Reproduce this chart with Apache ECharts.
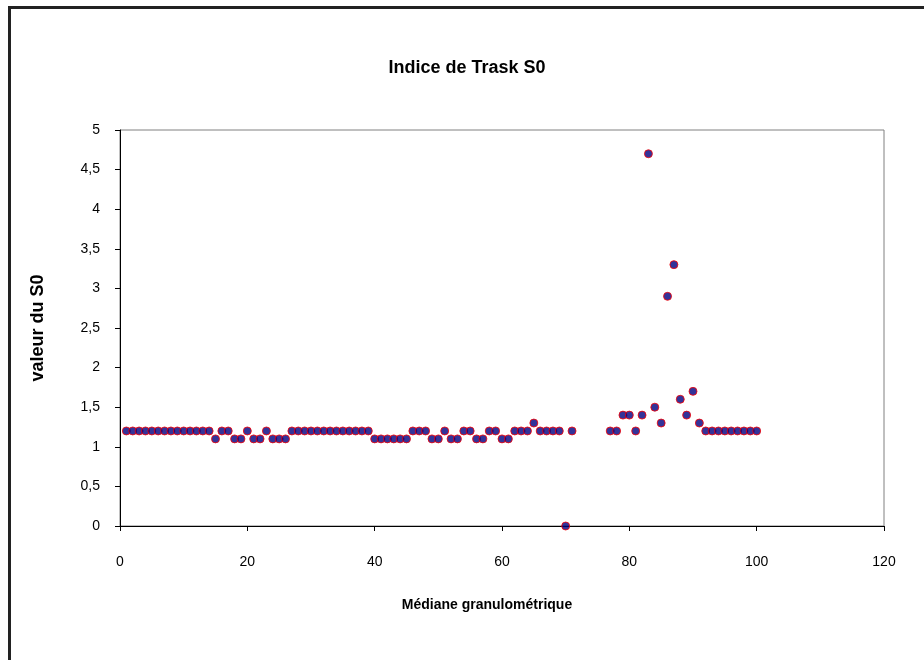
<!DOCTYPE html>
<html>
<head>
<meta charset="utf-8">
<script src="https://cdn.jsdelivr.net/npm/echarts@6/dist/echarts.min.js"></script>
<style>
  body { margin: 0; background: #fff; }
  #chart { width: 924px; height: 660px; }
</style>
</head>
<body>
<div id="chart"></div>
<script>
// Médiane granulométrique (x) et valeur du S0 (y)
const xValues = [
  1, 2, 3, 4, 5, 6, 7, 8, 9, 10, 11, 12, 13, 14, 15, 16, 17, 18, 19, 20,
  21, 22, 23, 24, 25, 26, 27, 28, 29, 30, 31, 32, 33, 34, 35, 36, 37, 38, 39, 40,
  41, 42, 43, 44, 45, 46, 47, 48, 49, 50, 51, 52, 53, 54, 55, 56, 57, 58, 59, 60,
  61, 62, 63, 64, 65, 66, 67, 68, 69, 70, 71,
  77, 78, 79, 80, 81, 82, 83, 84, 85, 86, 87, 88, 89, 90,
  91, 92, 93, 94, 95, 96, 97, 98, 99, 100
]
const s0Values = [
  1.2, 1.2, 1.2, 1.2, 1.2, 1.2, 1.2, 1.2, 1.2, 1.2, 1.2, 1.2, 1.2, 1.2, 1.1, 1.2, 1.2, 1.1, 1.1, 1.2,
  1.1, 1.1, 1.2, 1.1, 1.1, 1.1, 1.2, 1.2, 1.2, 1.2, 1.2, 1.2, 1.2, 1.2, 1.2, 1.2, 1.2, 1.2, 1.2, 1.1,
  1.1, 1.1, 1.1, 1.1, 1.1, 1.2, 1.2, 1.2, 1.1, 1.1, 1.2, 1.1, 1.1, 1.2, 1.2, 1.1, 1.1, 1.2, 1.2, 1.1,
  1.1, 1.2, 1.2, 1.2, 1.3, 1.2, 1.2, 1.2, 1.2, 0, 1.2,
  1.2, 1.2, 1.4, 1.4, 1.2, 1.4, 4.7, 1.5, 1.3, 2.9, 3.3, 1.6, 1.4, 1.7,
  1.3, 1.2, 1.2, 1.2, 1.2, 1.2, 1.2, 1.2, 1.2, 1.2
]

const points = xValues.map((x, i) => [x, s0Values[i]])

const chart = echarts.init(document.getElementById('chart'))
const font = 'Liberation Sans, Arial, sans-serif'

chart.setOption({
  animation: false,
  backgroundColor: '#fff',
  title: {
    text: 'Indice de Trask S0',
    left: 462,
    top: 54,
    textAlign: 'center',
    textStyle: { fontFamily: font, fontSize: 18, fontWeight: 'bold', color: '#000' }
  },
  // cadre noir autour du graphique
  graphic: [{
    type: 'rect',
    shape: { x: 9.5, y: 7.5, width: 1000, height: 1000 },
    style: { fill: 'none', stroke: '#222', lineWidth: 3 }
  }],
  grid: {
    left: 120, right: 40, top: 130, bottom: 134,
    show: true, borderColor: '#808080', borderWidth: 1
  },
  xAxis: {
    type: 'value',
    min: 0, max: 120, interval: 20,
    name: 'Médiane granulométrique',
    nameLocation: 'middle',
    nameGap: 72,
    nameTextStyle: { fontFamily: font, fontSize: 14, fontWeight: 'bold', color: '#000', padding: [0, 30, 0, 0] },
    axisLine: { lineStyle: { color: '#000', width: 1 } },
    axisTick: { show: true, length: 5, lineStyle: { color: '#000' } },
    axisLabel: { fontFamily: font, fontSize: 14, color: '#000', margin: 29 },
    splitLine: { show: false }
  },
  yAxis: {
    type: 'value',
    min: 0, max: 5, interval: 0.5,
    name: 'valeur du S0',
    nameLocation: 'middle',
    nameGap: 73,
    nameTextStyle: { fontFamily: font, fontSize: 18, fontWeight: 'bold', color: '#000' },
    axisLine: { show: true, lineStyle: { color: '#000', width: 1 } },
    axisTick: { show: true, length: 5, lineStyle: { color: '#000' } },
    axisLabel: {
      fontFamily: font, fontSize: 14, color: '#000', margin: 20,
      formatter: v => String(v).replace('.', ',')
    },
    splitLine: { show: false }
  },
  series: [{
    type: 'scatter',
    data: points,
    symbol: 'circle',
    symbolSize: 8,
    itemStyle: { color: '#000080', borderColor: '#ff0000', borderWidth: 1 }
  }]
})
</script>
</body>
</html>
